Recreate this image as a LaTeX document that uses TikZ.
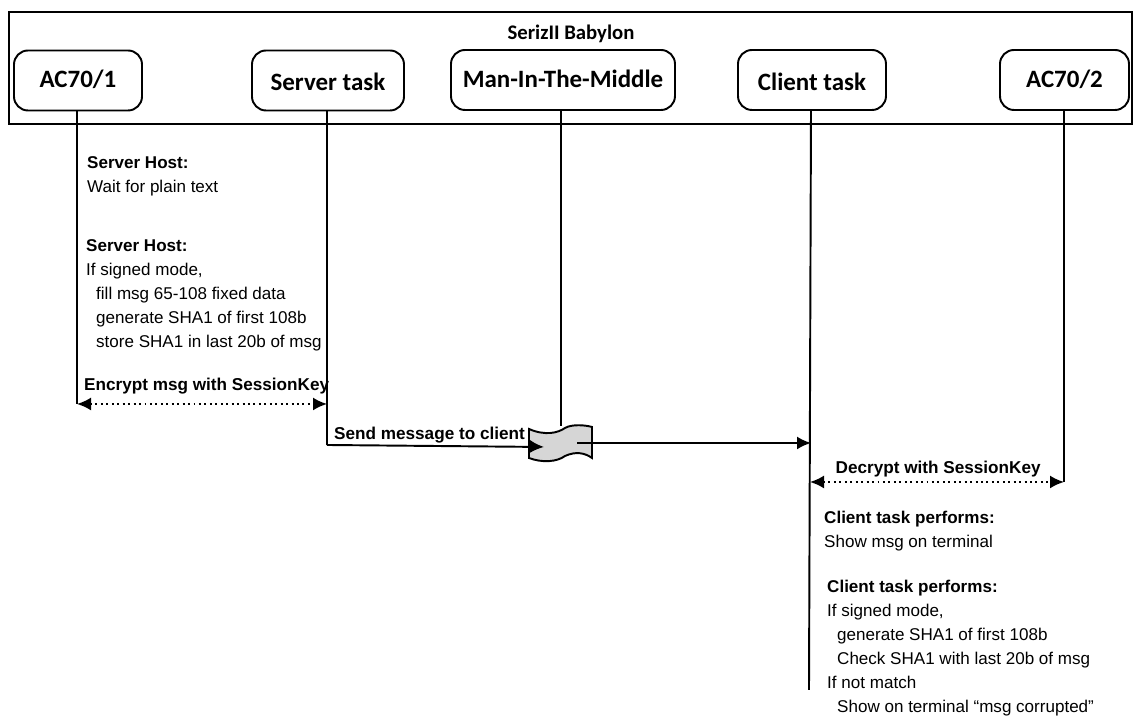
\documentclass[tikz,border=0pt]{standalone}
\usepackage{fontspec}
\setmainfont{Liberation Sans}
\newfontfamily\boxfont{Carlito}
\usetikzlibrary{arrows.meta}
\pgfdeclarelayer{edgelayer}
\pgfdeclarelayer{nodelayer}
\pgfsetlayers{edgelayer,nodelayer,main}
\definecolor{lgrey}{rgb}{0.84,0.84,0.84}
\tikzstyle{none}=[inner sep=0pt]
\tikzstyle{actor}=[rectangle,rounded corners=.14cm,draw=black,line width=.55pt,fill=white,minimum height=.6cm,inner sep=0pt,text height=.22cm,text depth=.07cm,font=\boxfont\bfseries\fontsize{7.1}{8}\selectfont]
\tikzstyle{lowactor}=[style=actor,text height=.28cm]
\tikzstyle{note}=[inner sep=0pt,anchor=north west,align=left,font=\fontsize{4.85}{6.83}\selectfont]
\tikzstyle{msg}=[inner sep=0pt,anchor=west,font=\bfseries\fontsize{4.88}{6.83}\selectfont]
\tikzstyle{life}=[-,line width=.55pt]
\tikzstyle{inarrow}=[->,>={Latex[length=.14cm,width=.13cm]},line width=.55pt]
\tikzstyle{dotarrow}=[<->,>={Latex[length=.14cm,width=.13cm]},densely dotted,line width=.55pt]

\begin{document}
\begin{tikzpicture}
	\useasboundingbox (0,0) rectangle (11.45,-7.23);
	\begin{pgfonlayer}{nodelayer}
		\node [style=none, font=\boxfont\bfseries\fontsize{5.9}{6}\selectfont] (title) at (5.71, -0.34) {SerizII Babylon};
		\node [style=actor, minimum width=1.28cm] (ac1) at (0.78, -0.805) {AC70/1};
		\node [style=lowactor, minimum width=1.52cm] (server) at (3.28, -0.805) {Server task};
		\node [style=actor, minimum width=2.24cm] (mitm) at (5.63, -0.80) {Man-In-The-Middle};
		\node [style=lowactor, minimum width=1.48cm] (client) at (8.12, -0.80) {Client task};
		\node [style=actor, minimum width=1.29cm] (ac2) at (10.645, -0.80) {AC70/2};

		\node [style=note] (n1) at (0.865, -1.555) {\textbf{Server Host:}\\Wait for plain text};
		\node [style=note] (n2) at (0.855, -2.385) {\textbf{Server Host:}\\If signed mode,\\\hspace*{.1cm}fill msg 65-108 fixed data\\\hspace*{.1cm}generate SHA1 of first 108b\\\hspace*{.1cm}store SHA1 in last 20b of msg};
		\node [style=msg] (encrypt) at (0.835, -3.865) {Encrypt msg with SessionKey};
		\node [style=msg] (send) at (3.335, -4.35) {Send message to client};
		\node [style=msg] (decrypt) at (8.35, -4.695) {Decrypt with SessionKey};
		\node [style=note] (n3) at (8.235, -5.105) {\textbf{Client task performs:}\\Show msg on terminal};
		\node [style=note] (n4) at (8.265, -5.795) {\textbf{Client task performs:}\\If signed mode,\\\hspace*{.1cm}generate SHA1 of first 108b\\\hspace*{.1cm}Check SHA1 with last 20b of msg\\If not match\\\hspace*{.1cm}Show on terminal ``msg corrupted''};

		% flag drawn by hand
		\coordinate (flagtop) at (5.61, -4.26);
		\coordinate (flagin) at (5.44, -4.47);
		\coordinate (flagout) at (5.77, -4.43);
		\draw [fill=lgrey, line width=.55pt] (5.29,-4.29) .. controls (5.45,-4.36) and (5.58,-4.33) .. (5.65,-4.28) .. controls (5.72,-4.24) and (5.85,-4.25) .. (5.92,-4.27) -- (5.92,-4.58) .. controls (5.85,-4.53) and (5.76,-4.51) .. (5.65,-4.56) .. controls (5.57,-4.62) and (5.42,-4.63) .. (5.29,-4.58) -- cycle;
		\draw [->,>={Latex[length=.14cm,width=.13cm]},line width=.55pt] (5.29,-4.465) -- (flagin);
		\draw [line width=.55pt] (flagout) -- (5.92,-4.43);
	\end{pgfonlayer}
	\begin{pgfonlayer}{edgelayer}
		\node [draw=black, line width=.8pt, minimum width=11.23cm, minimum height=1.12cm, inner sep=0pt] (frame) at (5.705, -0.68) {};
		\coordinate (ac1end) at (0.77, -4.04);
		\coordinate (serverend) at (3.27, -4.45);
		\coordinate (serverdot) at (3.27, -4.04);
		\coordinate (clientin) at (8.11, -4.43);
		\coordinate (clientdot) at (8.10, -4.82);
		\coordinate (clientend) at (8.09, -6.90);
		\coordinate (ac2end) at (10.64, -4.82);

		\draw [style=life] (ac1.south -| ac1end) to (ac1end);
		\draw [style=life] (server.south -| serverend) to (serverend);
		\draw [style=life] (mitm.south -| flagtop) to (flagtop);
		\draw [style=life] (client.south -| clientin) to (clientend);
		\draw [style=life] (ac2.south -| ac2end) to (ac2end);
		\draw [style=dotarrow] (ac1end) to (serverdot);
		\draw [style=life] (serverend) to (flagin);
		\draw [style=inarrow] (flagout) to (clientin);
		\draw [style=dotarrow] (clientdot) to (ac2end);
	\end{pgfonlayer}
\end{tikzpicture}
\end{document}
